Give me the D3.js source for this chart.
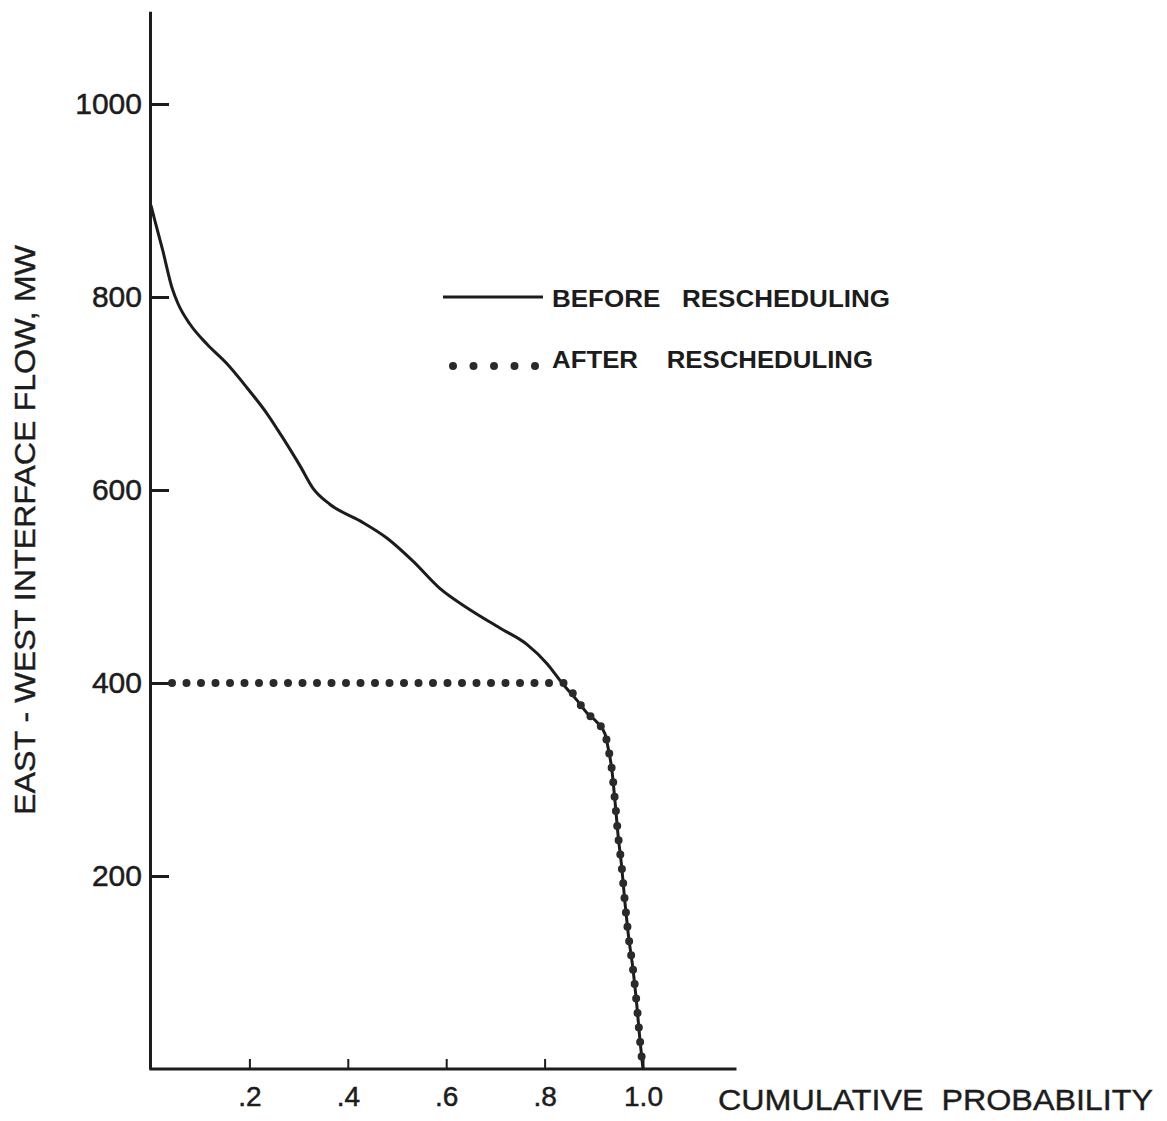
<!DOCTYPE html>
<html>
<head>
<meta charset="utf-8">
<script src="https://cdn.jsdelivr.net/npm/d3@7"></script>
<style>
  html, body { margin: 0; padding: 0; background: #fff; }
  svg { display: block; }
  text { font-family: "Liberation Sans", Arial, Helvetica, sans-serif; fill: #1c1c1c; }
</style>
</head>
<body>
<svg id="chart" width="1167" height="1121"></svg>
<script>
// ---- data ----
const beforeProb = [0.000, 0.008, 0.024, 0.043, 0.055, 0.079, 0.114, 0.154, 0.195, 0.236, 0.268, 0.303, 0.329, 0.364, 0.425, 0.480, 0.533, 0.587, 0.642, 0.709, 0.764, 0.805, 0.837, 0.866, 0.886, 0.907, 0.923, 0.929, 0.937, 0.943, 0.949, 0.957, 0.963, 0.970, 0.980, 0.988, 0.994, 1.000];
const beforeFlow = [895, 879, 848, 809, 793, 772, 751, 731, 706, 679, 654, 625, 602, 585, 568, 550, 526, 498, 478, 457, 440, 420, 399, 382, 369, 359, 347, 333, 309, 278, 244, 208, 174, 140, 102, 63, 29, 0];
const afterProb = [0.000, 0.840, 0.866, 0.886, 0.907, 0.923, 0.929, 0.937, 0.943, 0.949, 0.957, 0.963, 0.970, 0.980, 0.988, 0.994, 1.000];
const afterFlow = [400, 400, 382, 369, 359, 347, 333, 309, 278, 244, 208, 174, 140, 102, 63, 29, 0];
const xTickValues = [0.2, 0.4, 0.6, 0.8, 1.0];
const xTickLabels = [".2", ".4", ".6", ".8", "1.0"];
const yTickValues = [200, 400, 600, 800, 1000];
const yTickLabels = ["200", "400", "600", "800", "1000"];
const seriesNames = ["BEFORE   RESCHEDULING", "AFTER    RESCHEDULING"];
const xTitle = "CUMULATIVE  PROBABILITY";
const yTitle = "EAST - WEST INTERFACE FLOW, MW";

// ---- scales ----
const svg = d3.select("#chart");
const ink = "#1c1c1c";
const x = d3.scaleLinear().domain([0, 1.19]).range([151, 151 + 1.19 * 492]);
const y = d3.scaleLinear().domain([0, 1096]).range([1069, 1069 - 1096 * 0.965]);

// ---- axes ----
const xAxis = d3.axisBottom(x)
  .tickValues(xTickValues)
  .tickFormat((d, i) => xTickLabels[i])
  .tickSizeInner(-10).tickSizeOuter(0).tickPadding(17);
const gx = svg.append("g").attr("transform", `translate(0,${y(0)})`).call(xAxis);
gx.select(".domain").attr("stroke", ink).attr("stroke-width", 3).attr("d", `M${x(0) - 1.5},0H${x(1.19)}`);
gx.selectAll(".tick line").attr("stroke", ink).attr("stroke-width", 2);
gx.selectAll(".tick text").attr("font-size", 28).attr("fill", ink).attr("font-family", null)
  .attr("stroke", ink).attr("stroke-width", 0.5);

const yAxis = d3.axisLeft(y)
  .tickValues(yTickValues)
  .tickFormat((d, i) => yTickLabels[i])
  .tickSizeInner(-19).tickSizeOuter(0).tickPadding(8);
const gy = svg.append("g").attr("transform", `translate(${x(0) - 1},0)`).call(yAxis);
gy.select(".domain").attr("stroke", ink).attr("stroke-width", 3);
gy.selectAll(".tick line").attr("stroke", ink).attr("stroke-width", 3);
gy.selectAll(".tick text").attr("font-size", 30).attr("fill", ink).attr("font-family", null)
  .attr("stroke", ink).attr("stroke-width", 0.5);

// ---- series ----
const line = d3.line().x(d => x(d[0])).y(d => y(d[1])).curve(d3.curveMonotoneX);
const beforeData = beforeProb.map((p, i) => [p, beforeFlow[i]]);
const afterData = afterProb.map((p, i) => [p, afterFlow[i]]);

svg.append("path").datum(beforeData)
  .attr("d", line).attr("fill", "none").attr("stroke", ink).attr("stroke-width", 3);

// dotted style: first gap, then a dot every 14.5px
const dotPattern = [0, 30];
for (let k = 0; k < 120; k++) dotPattern.push(0, 14.5);
svg.append("path").datum(afterData)
  .attr("d", line)
  .attr("fill", "none").attr("stroke", "#2a2a2a").attr("stroke-width", 8)
  .attr("stroke-linecap", "round").attr("stroke-dasharray", dotPattern.join(" "))
  .attr("stroke-dashoffset", 9);

// ---- legend ----
const lg = svg.append("g");
lg.append("line").attr("x1", 443).attr("x2", 543).attr("y1", 297).attr("y2", 297)
  .attr("stroke", ink).attr("stroke-width", 3);
lg.append("text").attr("x", 552).attr("y", 307).attr("font-size", 24).attr("font-weight", "bold")
  .style("white-space", "pre")
  .attr("textLength", 338).attr("lengthAdjust", "spacingAndGlyphs").text(seriesNames[0]);
lg.append("line").attr("x1", 453).attr("x2", 537).attr("y1", 366).attr("y2", 366)
  .attr("stroke", "#2a2a2a").attr("stroke-width", 8).attr("stroke-linecap", "round")
  .attr("stroke-dasharray", "0 20.5");
lg.append("text").attr("x", 552).attr("y", 368).attr("font-size", 24).attr("font-weight", "bold")
  .style("white-space", "pre")
  .attr("textLength", 321).attr("lengthAdjust", "spacingAndGlyphs").text(seriesNames[1]);

// ---- titles ----
svg.append("text").attr("x", 718).attr("y", 1110).attr("font-size", 30)
  .attr("stroke", ink).attr("stroke-width", 0.4)
  .style("white-space", "pre")
  .attr("textLength", 435).attr("lengthAdjust", "spacingAndGlyphs").text(xTitle);
svg.append("text").attr("transform", "translate(35,530) rotate(-90)")
  .attr("text-anchor", "middle").attr("font-size", 30)
  .attr("stroke", ink).attr("stroke-width", 0.4)
  .attr("textLength", 570).attr("lengthAdjust", "spacingAndGlyphs").text(yTitle);
</script>
</body>
</html>
